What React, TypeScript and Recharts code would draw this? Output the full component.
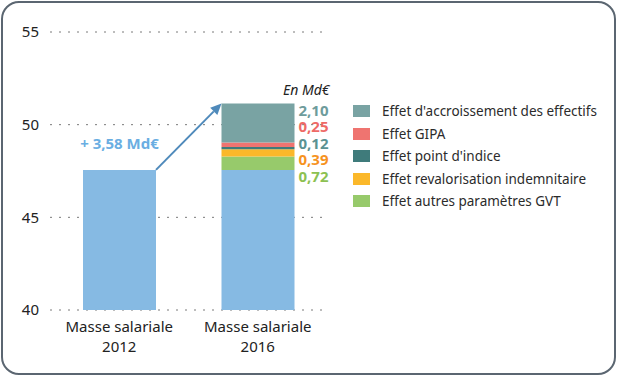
import React from 'react';
import { BarChart, Bar, XAxis, YAxis, CartesianGrid, LabelList } from 'recharts';

const categories = ['Masse salariale|2012', 'Masse salariale|2016'];
const baseValues = [47.56, 47.56];
const autresGVT = [0, 0.72];
const revalorisation = [0, 0.39];
const pointIndice = [0, 0.12];
const gipa = [0, 0.25];
const accroissement = [0, 2.1];
const yTicks = [40, 45, 50, 55];
const legendNames = [
  "Effet d'accroissement des effectifs",
  'Effet GIPA',
  "Effet point d'indice",
  'Effet revalorisation indemnitaire',
  'Effet autres paramètres GVT',
];
const valueLabels = ['2,10', '0,25', '0,12', '0,39', '0,72'];
const totalLabel = '+ 3,58 Md€';
const totalIncrease = 3.58;
const unitLabel = 'En Md€';

const barColors = ['#79a3a3', '#ef7470', '#3f7b7b', '#fbb82a', '#97ca6b'];
const labelColors = ['#6e9c9c', '#ee6a66', '#5b9292', '#f6931f', '#8dc152'];
const baseColor = '#86bae3';
const FONT = '"Noto Sans", sans-serif';

const W = 619;
const H = 377;
const X_H = 30;
const M = { top: 32, right: 292, bottom: 67 - X_H, left: 0 };
const Y_W = 50;
const PLOT_H = H - M.top - M.bottom - X_H;
const PPU = PLOT_H / (yTicks[yTicks.length - 1] - yTicks[0]);
const BAR = 73;
const BAND = (W - M.left - M.right - Y_W) / categories.length;

const data = categories.map((c, i) => ({
  name: c,
  base: baseValues[i],
  autres: autresGVT[i],
  reval: revalorisation[i],
  point: pointIndice[i],
  gipa: gipa[i],
  accr: accroissement[i],
}));

const XTick = (props: any) => {
  const { x, y, payload } = props;
  const lines = String(payload.value).split('|');
  return (
    <text x={x} y={y} textAnchor="middle" fill="#222" fontSize={15} fontFamily={FONT}>
      {lines.map((l, i) => (
        <tspan key={i} x={x} dy={i === 0 ? 14 : 20}>{l}</tspan>
      ))}
    </text>
  );
};

const BaseLabel = (props: any) => {
  const { x, y, width, index } = props;
  if (index !== 0) return null;
  const sx = x + width;
  const sy = y;
  const ex = x + width + (BAND - BAR);
  const ey = y - totalIncrease * PPU;
  const ang = Math.atan2(ey - sy, ex - sx);
  const hl = 11;
  const hw = 5;
  const bx = ex - hl * Math.cos(ang);
  const by = ey - hl * Math.sin(ang);
  const px = -Math.sin(ang) * hw;
  const py = Math.cos(ang) * hw;
  return (
    <g>
      <line x1={sx} y1={sy} x2={bx} y2={by} stroke="#4f8abb" strokeWidth={2} />
      <polygon points={`${ex},${ey} ${bx + px},${by + py} ${bx - px},${by - py}`} fill="#4f8abb" />
      <text x={x + width / 2} y={y - 21} textAnchor="middle" fill="#6aaee2" fontSize={15} fontWeight={700} fontFamily={FONT}>
        {totalLabel}
      </text>
    </g>
  );
};

const TopLabel = (props: any) => {
  const { x, y, width, height } = props;
  if (!(Math.abs(Number(height)) > 1)) return null;
  const top = Math.min(Number(y), Number(y) + Number(height));
  const lx = Number(x) + Number(width) + 4;
  return (
    <g fontFamily={FONT}>
      <text x={lx + 31} y={top - 8.5} textAnchor="end" fill="#222" fontSize={14} fontStyle="italic">{unitLabel}</text>
      {valueLabels.map((v, i) => (
        <text key={i} x={lx} y={top + 12 + i * 16.5} fill={labelColors[i]} fontSize={15} fontWeight={700}>{v}</text>
      ))}
    </g>
  );
};

export default function App() {
  return (
    <div style={{ position: 'absolute', left: 0, top: 0, width: W, height: H, background: '#fff' }}>
      <div
        style={{
          position: 'absolute', left: 1, top: 1, width: W - 4, height: H - 3,
          border: '2px solid #5b6671', borderRadius: 18, boxSizing: 'border-box',
        }}
      />
      <div style={{ position: 'absolute', left: 353, top: 100, width: 262, fontFamily: FONT, fontSize: 13.5, color: '#2b2b2b' }}>
        {legendNames.map((n, i) => (
          <div key={i} style={{ display: 'flex', alignItems: 'center', height: 22.5 }}>
            <div style={{ width: 17, height: 12, background: barColors[i], marginRight: 12, flexShrink: 0 }} />
            <span style={{ whiteSpace: 'nowrap' }}>{n}</span>
          </div>
        ))}
      </div>
      <div style={{ position: 'absolute', left: 0, top: 0 }}>
        <BarChart width={W} height={H} data={data} margin={M} barSize={BAR}>
          <CartesianGrid vertical={false} stroke="#7a7a7a" strokeDasharray="2 7" />
          <XAxis dataKey="name" height={X_H} axisLine={false} tickLine={false} tick={<XTick />} interval={0} />
          <YAxis
            width={Y_W}
            domain={[yTicks[0], yTicks[yTicks.length - 1]]}
            allowDataOverflow
            ticks={yTicks}
            axisLine={false}
            tickLine={false}
            tickMargin={5}
            tick={{ fill: '#222', fontSize: 15, fontFamily: FONT }}
          />
          <Bar dataKey="base" stackId="s" fill={baseColor} isAnimationActive={false}>
            <LabelList dataKey="base" content={<BaseLabel />} />
          </Bar>
          <Bar dataKey="autres" stackId="s" fill={barColors[4]} isAnimationActive={false} />
          <Bar dataKey="reval" stackId="s" fill={barColors[3]} isAnimationActive={false} />
          <Bar dataKey="point" stackId="s" fill={barColors[2]} isAnimationActive={false} />
          <Bar dataKey="gipa" stackId="s" fill={barColors[1]} isAnimationActive={false} />
          <Bar dataKey="accr" stackId="s" fill={barColors[0]} isAnimationActive={false}>
            <LabelList dataKey="accr" content={<TopLabel />} />
          </Bar>
        </BarChart>
      </div>
    </div>
  );
}
